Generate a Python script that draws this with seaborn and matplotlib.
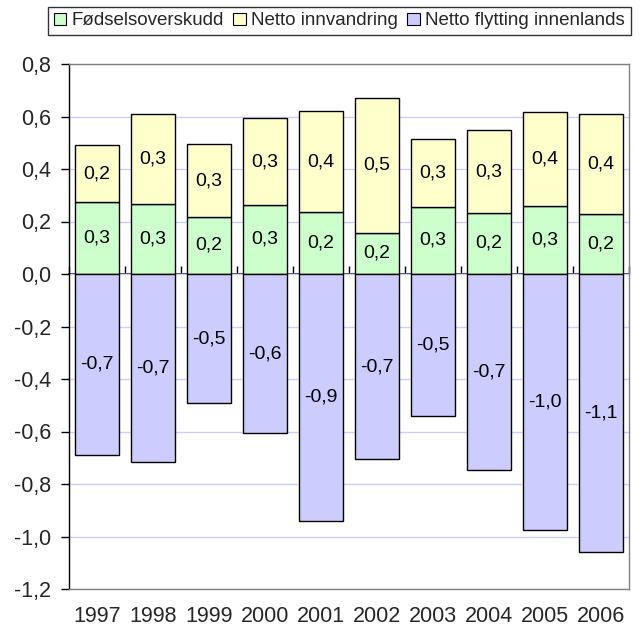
import matplotlib
matplotlib.use("Agg")
import matplotlib.pyplot as plt
import seaborn as sns
import numpy as np
import pandas as pd
from matplotlib.ticker import FuncFormatter, FixedLocator
from matplotlib.patches import Patch

years = ["1997", "1998", "1999", "2000", "2001", "2002", "2003", "2004", "2005", "2006"]
fodsel = [0.275, 0.265, 0.218, 0.264, 0.237, 0.157, 0.256, 0.233, 0.26, 0.23]
innvandring = [0.215, 0.345, 0.276, 0.329, 0.383, 0.513, 0.257, 0.314, 0.356, 0.379]
flytting = [-0.688, -0.718, -0.493, -0.607, -0.94, -0.706, -0.54, -0.748, -0.975, -1.058]
series_names = ["Fødselsoverskudd", "Netto innvandring", "Netto flytting innenlands"]
colors = ["#CCFFCC", "#FFFFCC", "#CCCCFF"]

sns.set_theme(style="white")
plt.rcParams["font.family"] = ["Liberation Sans", "DejaVu Sans"]

fig = plt.figure(figsize=(6.44, 6.32), dpi=100)
ax = fig.add_axes([69 / 644, 43 / 632, 560 / 644, 525 / 632])

df = pd.DataFrame({"year": years, "f": fodsel, "i": innvandring, "n": flytting})
bw = 0.77
common = dict(ax=ax, width=bw, edgecolor="black", linewidth=1.0, saturation=1, order=years, zorder=3)
sns.barplot(data=df, x="year", y="f", color=colors[0], **common)
sns.barplot(data=df, x="year", y="i", color=colors[1], bottom=np.array(fodsel), **common)
sns.barplot(data=df, x="year", y="n", color=colors[2], **common)

fmt = lambda v: f"{v:.1f}".replace(".", ",")
for cont in ax.containers:
    ax.bar_label(cont, labels=[fmt(b.get_height()) for b in cont], label_type="center",
                 fontsize=14, color="black", zorder=5)

ax.set_ylim(-1.2, 0.8)
ax.set_xlim(-0.5, 9.5)
ax.yaxis.set_major_locator(FixedLocator(np.round(np.arange(-1.2, 0.81, 0.2), 1)))
ax.yaxis.set_major_formatter(FuncFormatter(lambda v, p: f"{v:.1f}".replace(".", ",").replace("-0,0", "0,0")))
ax.set_xlabel("")
ax.set_ylabel("")
ax.grid(axis="y", color="#CCCCFF", linewidth=1.0, zorder=0)
ax.grid(axis="x", visible=False)
ax.set_axisbelow(True)

for s in ["top", "right", "bottom"]:
    ax.spines[s].set_color("#808080")
    ax.spines[s].set_linewidth(1.0)
ax.spines["left"].set_color("black")
ax.spines["left"].set_linewidth(1.0)

ax.tick_params(axis="y", direction="out", length=6, width=1, color="black", pad=7, labelsize=15.5, left=True)
ax.tick_params(axis="x", length=0, pad=12, labelsize=15.5)

# zero axis line with category-boundary ticks
sec = ax.secondary_xaxis(0.6)
sec.set_xticks(np.arange(-0.5, 10, 1.0))
sec.set_xticklabels([])
sec.tick_params(axis="x", direction="out", length=6, width=1, color="black")
sec.spines["bottom"].set_color("black")
sec.spines["bottom"].set_linewidth(1.2)

handles = [Patch(facecolor=c, edgecolor="black", linewidth=0.8) for c in colors]
leg = fig.legend(handles, series_names, loc="center", bbox_to_anchor=(0.527, 0.967), ncol=3,
                 fontsize=13.5, frameon=True, fancybox=False, edgecolor="black",
                 handlelength=0.65, handleheight=0.65, handletextpad=0.3, columnspacing=0.5,
                 borderpad=0.3, borderaxespad=0)
leg.get_frame().set_linewidth(1.0)

fig.savefig("out.png", dpi=100)
